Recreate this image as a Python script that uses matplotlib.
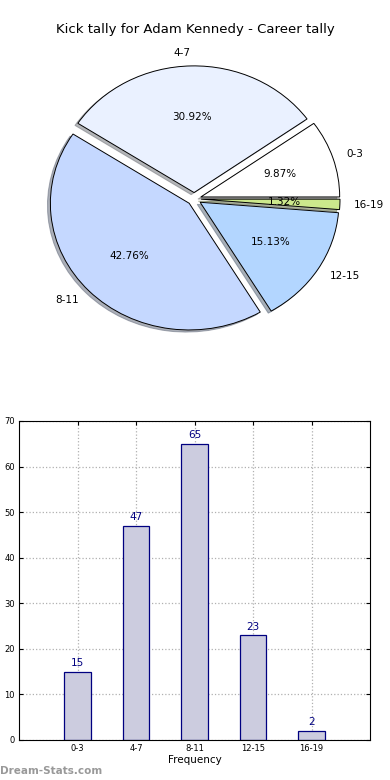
import matplotlib
matplotlib.use('Agg')
import matplotlib.pyplot as plt
import numpy as np

# data
categories = ['0-3', '4-7', '8-11', '12-15', '16-19']
counts = [15, 47, 65, 23, 2]
pie_colors = ['#ffffff', '#eaf1ff', '#c5d8ff', '#b3d6ff', '#cce88c']
title = 'Kick tally for Adam Kennedy - Career tally'

fig = plt.figure(figsize=(3.9, 7.8), dpi=100)

# pie chart (not forced circular, like the old output)
ax1 = fig.add_axes([0.053, 0.542, 0.89, 0.406])
wedges, texts, autotexts = ax1.pie(
    counts, labels=categories, colors=pie_colors, explode=[0.05] * len(counts),
    autopct='%1.2f%%', shadow={'ox': -0.015, 'oy': -0.012, 'shade': 0.55},
    startangle=0,
    wedgeprops={'edgecolor': 'black', 'linewidth': 0.7},
    textprops={'fontsize': 7.5})
ax1.set_aspect('auto')
ax1.set_xlim(-1.25, 1.25)
ax1.set_ylim(-1.25, 1.25)
fig.text(0.5, 1 - 30 / 780, title, ha='center', va='center', fontsize=9.5)

# bar chart
ax2 = fig.add_axes([0.049, 0.0513, 0.9, 0.409])
x = np.arange(len(categories))
ax2.bar(x, counts, width=0.45, color='#ccccdf', edgecolor='#000080', linewidth=0.9, zorder=2)
for xi, c in zip(x, counts):
    ax2.text(xi, c + 0.8, str(c), ha='center', va='bottom', fontsize=7.5, color='#000080')
ax2.set_xlim(-1, 5)
ax2.set_ylim(0, 70)
ax2.set_xticks(x)
ax2.set_xticklabels(categories)
ax2.set_yticks(range(0, 71, 10))
ax2.tick_params(direction='in', labelsize=6, length=3, top=True, right=True, pad=3)
ax2.grid(True, linestyle=':', color='#b0b0b0', linewidth=0.9, zorder=0)
ax2.set_axisbelow(True)
ax2.set_xlabel('Frequency', fontsize=7.5, labelpad=1)

fig.text(0.0, 1 - 771 / 780, 'Dream-Stats.com', ha='left', va='center',
         fontsize=7.5, color='#999999', fontweight='bold')

plt.savefig('out.png', dpi=100)
plt.close()
